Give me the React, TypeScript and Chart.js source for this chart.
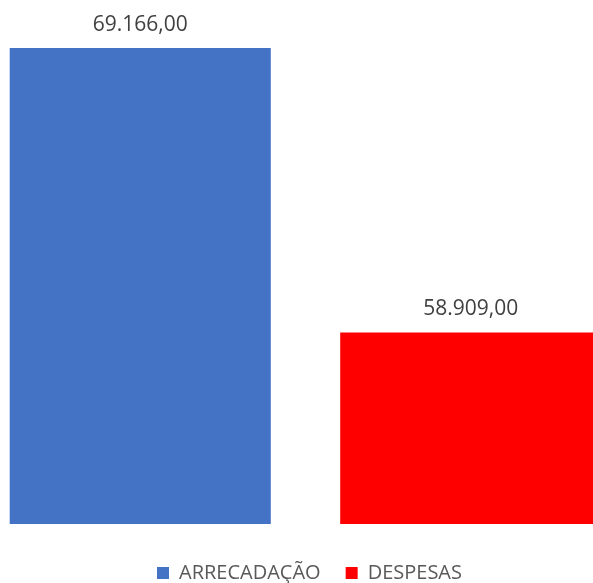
import React, { useEffect, useRef } from "react";
import { Chart, registerables } from "chart.js";

Chart.register(...registerables);

const categories = ["ARRECADAÇÃO", "DESPESAS"];
const arrecadacao = [69166, null];
const despesas = [null, 58909];
const seriesColors = ["#4472C4", "#FF0000"];
const yMin = 52000;
const yMax = 70000;

function fmt(v: number): string {
  const [i, d] = v.toFixed(2).split(".");
  return i.replace(/\B(?=(\d{3})+(?!\d))/g, ".") + "," + d;
}

const valueLabels = {
  id: "valueLabels",
  afterDatasetsDraw(chart: any) {
    const ctx = chart.ctx;
    ctx.save();
    ctx.font = '21px "Open Sans"';
    ctx.fillStyle = "#404040";
    ctx.textAlign = "center";
    ctx.textBaseline = "alphabetic";
    chart.data.datasets.forEach((ds: any, di: number) => {
      const meta = chart.getDatasetMeta(di);
      meta.data.forEach((bar: any, i: number) => {
        const v = ds.data[i];
        if (v == null) return;
        ctx.fillText(fmt(v), bar.x, bar.y - 17);
      });
    });
    ctx.restore();
  },
};

const legendShift = {
  id: "legendShift",
  afterLayout(chart: any) {
    if (chart.legend) {
      chart.legend.left += 4;
      chart.legend.right += 4;
    }
  },
};

export default function App() {
  const ref = useRef<HTMLCanvasElement>(null);
  useEffect(() => {
    if (!ref.current) return;
    const chart = new Chart(ref.current, {
      type: "bar",
      data: {
        labels: categories,
        datasets: [
          { label: categories[0], data: arrecadacao, backgroundColor: seriesColors[0] },
          { label: categories[1], data: despesas, backgroundColor: seriesColors[1] },
        ],
      },
      options: {
        animation: false,
        responsive: true,
        maintainAspectRatio: false,
        skipNull: true,
        categoryPercentage: 1,
        barPercentage: 0.79,
        layout: { padding: { top: 25, left: 0, right: 0, bottom: 0 } },
        scales: {
          x: { display: false },
          y: { display: false, min: yMin, max: yMax },
        },
        plugins: {
          tooltip: { enabled: false },
          legend: {
            position: "bottom",
            title: { display: true, text: " ", font: { size: 14, lineHeight: 1 }, padding: 0 },
            labels: {
              boxWidth: 12,
              boxHeight: 12,
              padding: 25,
              color: "#595959",
              font: { family: '"Open Sans"', size: 20 },
            },
          },
        },
      } as any,
      plugins: [valueLabels, legendShift],
    });
    return () => chart.destroy();
  }, []);
  return (
    <div style={{ position: "fixed", left: 0, top: 0, width: 593, height: 583, overflow: "hidden", background: "#fff" }}>
      <div style={{ position: "absolute", left: -25, top: 0, width: 661, height: 593 }}>
        <canvas ref={ref} />
      </div>
    </div>
  );
}
